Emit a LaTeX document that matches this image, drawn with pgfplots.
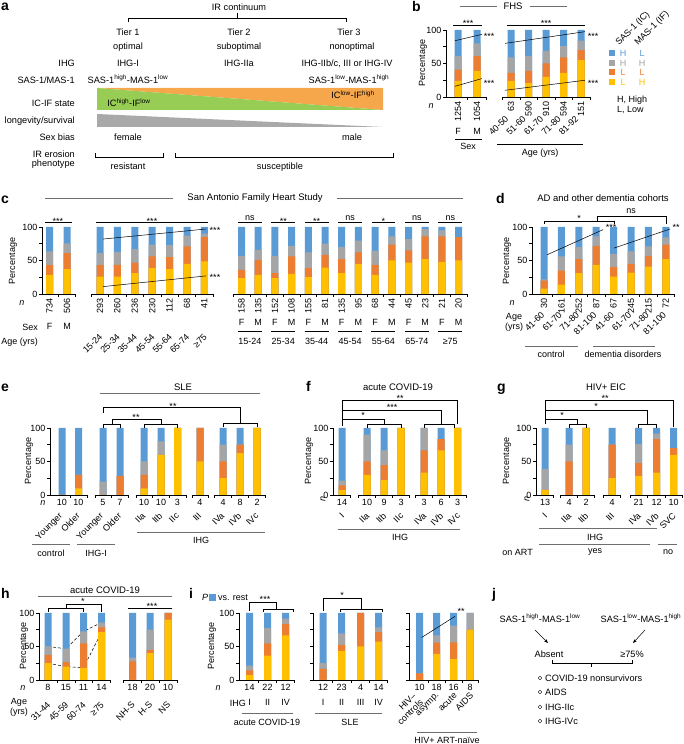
\documentclass[border=0pt]{standalone}
\usepackage{fontspec}
\setmainfont{Liberation Sans}
\usepackage{graphicx}
\usepackage{pgfplots}
\pgfplotsset{compat=1.18}
\usepackage{pgfplotstable}
\usetikzlibrary{arrows.meta}

\definecolor{cB}{HTML}{5B9BD5}
\definecolor{cG}{HTML}{A5A5A5}
\definecolor{cO}{HTML}{ED7D31}
\definecolor{cY}{HTML}{FFC000}
\definecolor{bandO}{HTML}{F6A64B}
\definecolor{bandG}{HTML}{97CC55}
\definecolor{triG}{HTML}{A9A9A9}
\definecolor{lnG}{HTML}{6E6E6E}

\newcommand{\fs}{\fontsize{9}{10}\selectfont}
\newcommand{\fa}{\fontsize{9.2}{10.5}\selectfont}
\newcommand{\ft}{\fontsize{9.5}{11}\selectfont}
\newcommand{\fl}{\fontsize{14}{14}\selectfont\bfseries}
\newcommand{\rr}[1]{\makebox[0pt][r]{\rotatebox{45}{#1}}}
\newcommand{\rv}[1]{\rotatebox{90}{#1}}
\newcommand{\Tx}[4][]{\node[font=\fs, inner sep=0pt, #1] at (#2,744-#3) {#4};}
\newcommand{\Sg}[3]{\node[font=\fs, inner sep=0pt, anchor=base] at (#1,744-#2) {#3};}
\newcommand{\xseg}[4]{\draw[axl] (#2,744-#1) -- (#3,744-#1); \foreach \tk in {#4} {\draw[axl] (\tk,744-#1) -- (\tk,744-#1-3);}}
\newcommand{\stk}[1]{%
  \addplot[BB=cB] table[x=x,y=B]{#1};
  \addplot[BB=cG] table[x=x,y=G]{#1};
  \addplot[BB=cO] table[x=x,y=O]{#1};
  \addplot[BB=cY] table[x=x,y=Y]{#1};}

\pgfplotsset{
 BB/.style={ybar, bar width=7pt, bar shift=0pt, draw=none, fill=#1},
 PB/.style={scale only axis, height=67pt, ymin=0, ymax=100, clip=false, enlargelimits=false, anchor=south west,
   axis x line*=bottom, axis y line*=left,
   x axis line style={draw=none}, y axis line style={line width=0.5pt, black},
   xtick style={draw=none}, ytick style={line width=0.5pt, black},
   ytick={0,50,100}, yticklabels={0,50,100}, minor ytick={25,75},
   tick align=outside, major tick length=3pt, minor tick length=3pt,
   tick label style={font=\fs},
   xticklabel style={inner sep=1pt},
   yticklabel style={inner sep=1.5pt},
 },
 NY/.style={axis y line=none},
 TL/.style={sharp plot, draw=black, line width=0.5pt, mark=none},
}

\pgfplotstableread[row sep=\\]{x B G O Y\\ 458 100 61 41 24\\ 477 100 80 61 39\\}\tbBa
\pgfplotstableread[row sep=\\]{x B G O Y\\ 511 100 59 36 24\\ 528.5 100 61 39 21\\ 546 100 69 50 30\\ 563.5 100 76 59 36\\ 581 100 84 70 55\\}\tbBb
\pgfplotstableread[row sep=\\]{x B G O Y\\ 49.5 100 63.5 43 28.5\\ 67 100 75.5 61 37\\}\tbCa
\pgfplotstableread[row sep=\\]{x B G O Y\\ 100 100 61 43 26\\ 117.4 100 62.5 43.5 26\\ 134.8 100 67 47 31\\ 152.2 100 73.5 56 38.5\\ 169.6 100 73 55 37\\ 187 100 87 71 45\\ 204.4 100 90 85 48.5\\}\tbCb
\pgfplotstableread[row sep=\\]{x B G O Y\\ 241.5 100 57 36 23.5\\ 258.2 100 66 51 28.5\\ 274.9 100 57 31 23.5\\ 291.6 100 72 56 30\\ 308.3 100 62 38.5 25\\ 325 100 75 58.5 39.5\\ 341.7 100 70 52 31\\ 358.4 100 79.5 62 45\\ 375.1 100 64.5 43.5 28.5\\ 391.8 100 86 73.5 50\\ 408.5 100 82 65 47\\ 425.2 100 97 86 52\\ 441.9 100 95 86 48\\ 458.6 100 85 85 50\\}\tbCc
\pgfplotstableread[row sep=\\]{x B G O Y\\ 544 100 22 20 8\\ 561.4 100 56 35 14\\ 578.8 100 70 52 31\\ 596.2 100 86 72 43.5\\ 613.6 100 60 40 26\\ 631 100 63.5 45 32\\ 648.4 100 71 57 41\\ 665.8 100 84.5 73.5 52\\}\tbD
\pgfplotstableread[row sep=\\]{x B G O Y\\ 62 100 0 0 0\\ 78.5 100 30 30 10\\ 103 100 20 0 0\\ 120 100 28.6 28.6 0\\ 144 100 50 30 10\\ 161 100 80 60 60\\ 177.5 100 100 100 100\\ 200 100 100 100 50\\ 223 100 75 50 25\\ 240 100 75 75 62.5\\ 257 100 100 100 100\\}\tbE
\pgfplotstableread[row sep=\\]{x B G O Y\\ 342 100 21.4 14.3 7.1\\ 367 100 90 50 30\\ 384 100 66.7 44.4 22.2\\ 401 100 100 100 100\\ 424 100 100 66.7 33.3\\ 441 100 83.3 83.3 66.7\\ 457.5 100 100 100 100\\}\tbF
\pgfplotstableread[row sep=\\]{x B G O Y\\ 545 100 38.5 7.7 7.7\\ 569 100 75 50 0\\ 586 100 100 100 100\\ 612 100 75 75 25\\ 638.5 100 76.2 47.6 28.6\\ 656.5 100 91.7 83.3 33.3\\ 673.5 100 70 70 60\\}\tbG
\pgfplotstableread[row sep=\\]{x B G O Y\\ 48 100 50 37.5 25\\ 66 100 46.7 26.7 20\\ 83.5 100 72.7 54.5 18.2\\ 101.5 100 85.7 78.6 71.4\\}\tbHa
\pgfplotstableread[row sep=\\]{x B G O Y\\ 132.5 100 33.3 27.8 0\\ 150 100 75 45 40\\ 168 100 100 100 90\\}\tbHb
\pgfplotstableread[row sep=\\]{x B G O Y\\ 249.5 100 21.4 14.3 7.1\\ 267.5 100 77.3 54.5 36.4\\ 285.5 100 91.7 83.3 66.7\\}\tbIa
\pgfplotstableread[row sep=\\]{x B G O Y\\ 323 100 25 16.7 0\\ 341.5 100 69.6 52.2 43.5\\ 360.5 100 100 100 50\\ 378.5 100 78.6 71.4 57.1\\}\tbIb
\pgfplotstableread[row sep=\\]{x B G O Y\\ 419.5 100 10 10 0\\ 436.5 100 66.7 55.6 38.9\\ 453.5 100 81.25 56.25 31.25\\ 470 100 100 75 75\\}\tbIc

\begin{document}
\begin{tikzpicture}[x=1pt,y=1pt]
\useasboundingbox (0,0) rectangle (683,744);
\tikzset{axl/.style={line width=0.5pt, black}, gl/.style={line width=0.6pt, lnG}}

% ================= panel a
\node[font=\fl, anchor=base west, inner sep=0] at (1,744-11) {a};
\begin{scope}[every node/.style={font=\fa, inner sep=0pt, anchor=base}]
\node at (239,744-10.5) {IR continuum};
\draw[axl] (128,744-22) -- (128,744-18) -- (346,744-18) -- (346,744-22);
\draw[axl] (237,744-18) -- (237,744-13);
\node at (128,744-35.5) {Tier 1}; \node at (239,744-35.5) {Tier 2}; \node at (349,744-35.5) {Tier 3};
\node at (128,744-50) {optimal}; \node at (239,744-50) {suboptimal}; \node at (352,744-50) {nonoptimal};
\node[anchor=base east] at (75,744-66.5) {IHG};
\node at (128,744-66.5) {IHG-I}; \node at (239,744-66.5) {IHG-IIa}; \node at (347,744-66.5) {IHG-IIb/c, III or IHG-IV};
\node[anchor=base east] at (75,744-83.5) {SAS-1/MAS-1};
\node at (128,744-83.5) {SAS-1\textsuperscript{high}-MAS-1\textsuperscript{low}};
\node at (349,744-83.5) {SAS-1\textsuperscript{low}-MAS-1\textsuperscript{high}};
\fill[bandO] (97,744-88) -- (383,744-88) -- (383,744-110) -- cycle;
\fill[bandG] (97,744-88) -- (383,744-110) -- (97,744-110) -- cycle;
\node[anchor=base east] at (75,744-107) {IC-IF state};
\node at (129,744-107) {IC\textsuperscript{high}-IF\textsuperscript{low}};
\node at (353,744-99) {IC\textsuperscript{low}-IF\textsuperscript{high}};
\fill[triG] (97,744-114) -- (383,744-127) -- (97,744-127) -- cycle;
\node[anchor=base east] at (75,744-124) {longevity/survival};
\node[anchor=base east] at (75,744-141) {Sex bias};
\node at (128,744-141) {female}; \node at (352,744-141) {male};
\node[anchor=base east] at (75,744-158) {IR erosion};
\node[anchor=base east] at (75,744-167) {phenotype};
\draw[axl] (95,744-153) -- (95,744-157) -- (163,744-157) -- (163,744-153);
\draw[axl] (175,744-153) -- (175,744-157) -- (393,744-157) -- (393,744-153);
\node at (128,744-169.5) {resistant}; \node at (280,744-169.5) {susceptible};
\end{scope}

% ================= panel b
\node[font=\fl, anchor=base west, inner sep=0] at (412,744-12) {b};
\Tx[font=\ft]{513}{6}{FHS}
\draw[gl] (460,744-6) -- (497,744-6); \draw[gl] (530,744-6) -- (567,744-6);
\Tx[rotate=90]{423}{63}{Percentage}
\begin{axis}[PB, at={(446pt,647pt)}, width=40.5pt, xmin=446, xmax=486.5,
  xtick={458,477}, xticklabels={\rv{1254},\rv{1054}},
  extra x ticks={458,477}, extra x tick labels={F,M},
  extra x tick style={tick label style={yshift=-27pt}}]
\stk{\tbBa}
\addplot[TL] coordinates {(455,84) (482,93.5)};
\addplot[TL] coordinates {(455,16) (482,27.5)};
\end{axis}
\begin{axis}[PB, NY, at={(502pt,647pt)}, width=88pt, xmin=502, xmax=590,
  xtick={511,528.5,546,563.5,581}, xticklabels={\rv{63},\rv{590},\rv{910},\rv{594},\rv{151}},
  extra x ticks={511,528.5,546,563.5,581}, extra x tick labels={\rr{40-50},\rr{51-60},\rr{61-70},\rr{71-80},\rr{81-92}},
  extra x tick style={tick label style={yshift=-14pt, xshift=-2pt}}]
\stk{\tbBb}
\addplot[TL] coordinates {(505,80) (585,97.5)};
\addplot[TL] coordinates {(505,10) (585,25)};
\end{axis}
\xseg{97}{446}{486.5}{467.5,486.5}
\xseg{97}{502.25}{589.75}{502.25,519.75,537.25,554.75,572.25,589.75}
\Tx[font=\fs\itshape]{431}{106}{n}
\draw[axl] (453,744-25) -- (482,744-25); \Sg{468}{27}{***}
\draw[axl] (507,744-25) -- (585,744-25); \Sg{546}{27}{***}
\Sg{489}{40}{***} \Sg{489}{87}{***} \Sg{593}{40}{***} \Sg{593}{87}{***}
\draw[axl] (455,744-139) -- (482,744-139); \Tx{468}{146}{Sex}
\draw[axl] (497,744-144) -- (583,744-144); \Tx{540}{153}{Age (yrs)}
% legend b
\node[font=\fs, rotate=45, anchor=base west, inner sep=0] at (619,744-46) {SAS-1 (IC)};
\node[font=\fs, rotate=45, anchor=base west, inner sep=0] at (638,744-46) {MAS-1 (IF)};
\fill[cB] (608.5,744-50.5) rectangle (614.5,744-56.5);
\fill[cG] (608.5,744-60) rectangle (614.5,744-66);
\fill[cO] (608.5,744-69.5) rectangle (614.5,744-75.5);
\fill[cY] (608.5,744-79) rectangle (614.5,744-85);
\Tx[text=cB]{623}{53.5}{H} \Tx[text=cB]{642}{53.5}{L}
\Tx[text=cG]{623}{63}{H} \Tx[text=cG]{642}{63}{H}
\Tx[text=cO]{623}{72.5}{L} \Tx[text=cO]{642}{72.5}{L}
\Tx[text=cY]{623}{82}{L} \Tx[text=cY]{642}{82}{H}
\Tx[anchor=west]{617}{100}{H, High}
\Tx[anchor=west]{617}{110}{L, Low}

% ================= panel c
\node[font=\fl, anchor=base west, inner sep=0] at (1,744-204) {c};
\Tx[font=\ft]{255}{198}{San Antonio Family Heart Study}
\draw[gl] (45,744-198) -- (173,744-198); \draw[gl] (337,744-198) -- (463,744-198);
\Tx[rotate=90]{13}{261}{Percentage}
\begin{axis}[PB, at={(42pt,450pt)}, width=34pt, xmin=42, xmax=76,
  xtick={49.5,67}, xticklabels={\rv{734},\rv{506}},
  extra x ticks={49.5,67}, extra x tick labels={F,M},
  extra x tick style={tick label style={yshift=-25pt}}]
\stk{\tbCa}
\end{axis}
\begin{axis}[PB, NY, at={(91pt,450pt)}, width=123pt, xmin=91, xmax=214,
  xtick={100,117.4,134.8,152.2,169.6,187,204.4}, xticklabels={\rv{293},\rv{260},\rv{236},\rv{230},\rv{112},\rv{68},\rv{41}},
  extra x ticks={100,117.4,134.8,152.2,169.6,187,204.4},
  extra x tick labels={\rr{15-24},\rr{25-34},\rr{35-44},\rr{45-54},\rr{55-64},\rr{65-74},\rr{≥75}},
  extra x tick style={tick label style={yshift=-35pt, xshift=3pt}}]
\stk{\tbCb}
\addplot[TL] coordinates {(103,82) (206,97)};
\addplot[TL] coordinates {(103,11) (206,27)};
\end{axis}
\begin{axis}[PB, NY, at={(233pt,450pt)}, width=234pt, xmin=233, xmax=467,
  xtick={241.5,258.2,274.9,291.6,308.3,325,341.7,358.4,375.1,391.8,408.5,425.2,441.9,458.6},
  xticklabels={\rv{158},\rv{135},\rv{152},\rv{108},\rv{155},\rv{81},\rv{135},\rv{95},\rv{68},\rv{44},\rv{45},\rv{23},\rv{21},\rv{20}},
  extra x ticks={241.5,258.2,274.9,291.6,308.3,325,341.7,358.4,375.1,391.8,408.5,425.2,441.9,458.6},
  extra x tick labels={F,M,F,M,F,M,F,M,F,M,F,M,F,M},
  extra x tick style={tick label style={yshift=-21pt}}]
\stk{\tbCc}
\end{axis}
\xseg{294}{42}{75.7}{58.2,75.7}
\xseg{294}{91.3}{213.1}{91.3,108.7,126.1,143.5,160.9,178.3,195.7,213.1}
\xseg{294}{233.15}{466.95}{233.15,249.85,266.55,283.25,299.95,316.65,333.35,350.05,366.75,383.45,400.15,416.85,433.55,450.25,466.95}
\Tx[font=\fs\itshape]{22}{303}{n}
\Tx[anchor=east]{38}{327}{Sex}
\Tx[anchor=east]{38}{342}{Age (yrs)}
\foreach \cx/\lab in {249.85/15-24,283.25/25-34,316.65/35-44,350.05/45-54,383.45/55-64,416.85/65-74,450.25/≥75}{
  \draw[axl] (\cx-12,744-331) -- (\cx+12,744-331);
  \node[font=\fs, inner sep=0pt] at (\cx,744-341) {\lab};}
\draw[axl] (45,744-222) -- (72,744-222); \Sg{58}{225}{***}
\draw[axl] (96,744-222) -- (208,744-222); \Sg{152}{225}{***}
\foreach \cx/\lab/\yb in {241.5/ns/220.5,274.9/**/225,308.3/**/225,341.7/ns/220.5,375.1/*/225,408.5/ns/220.5,441.9/ns/220.5}{
  \draw[axl] (\cx-3.5,744-222) -- (\cx+20.2,744-222);
  \node[font=\fs, inner sep=0pt, anchor=base] at (\cx+8.35,744-\yb) {\lab};}
\Sg{215}{234}{***} \Sg{215}{281}{***}

% ================= panel d
\node[font=\fl, anchor=base west, inner sep=0] at (496,744-204) {d};
\Tx[font=\ft]{603}{198}{AD and other dementia cohorts}
\Tx[rotate=90]{507}{261}{Percentage}
\begin{axis}[PB, at={(532pt,450pt)}, width=143pt, xmin=532, xmax=675,
  xtick={544,561.4,578.8,596.2,613.6,631,648.4,665.8},
  xticklabels={\rv{30},\rv{161},\rv{252},\rv{87},\rv{67},\rv{245},\rv{215},\rv{72}},
  extra x ticks={544,561.4,578.8,596.2,613.6,631,648.4,665.8},
  extra x tick labels={\rr{41-60},\rr{61-70},\rr{71-80},\rr{81-100},\rr{41-60},\rr{61-70},\rr{71-80},\rr{81-100}},
  extra x tick style={tick label style={yshift=-13pt, xshift=1pt}}]
\stk{\tbD}
\addplot[TL] coordinates {(547,58.5) (603,96)};
\addplot[TL] coordinates {(614,68.5) (670,97)};
\end{axis}
\xseg{294}{532}{674.5}{552.7,570.1,587.5,604.9,622.3,639.7,657.1,674.5}
\Tx[font=\fs\itshape]{512}{303}{n}
\node[font=\fs, inner sep=0pt, align=center] at (514,744-322) {Age\\(yrs)};
\draw[gl] (525,744-346) -- (578,744-346); \Tx{551}{354}{control}
\draw[gl] (593,744-346) -- (655,744-346); \Tx{623}{354}{dementia disorders}
\draw[axl] (544,744-224) -- (544,744-221) -- (614,744-221) -- (614,744-224); \Sg{579}{222}{*}
\draw[axl] (597,744-221) -- (597,744-216) -- (666,744-216) -- (666,744-224); \Sg{631}{213.5}{ns}
\Sg{611}{231}{***} \Sg{676}{231}{**}

% ================= panel e
\node[font=\fl, anchor=base west, inner sep=0] at (1,744-392) {e};
\Tx[font=\ft]{183}{387}{SLE}
\draw[gl] (100,744-393) -- (260,744-393);
\Tx[rotate=90]{29}{461}{Percentage}
\begin{axis}[PB, at={(50pt,249pt)}, width=216pt, xmin=50, xmax=266,
  xtick={62,78.5,103,120,144,161,177.5,200,223,240,257},
  xticklabels={10,10,5,7,10,10,3,4,4,8,2},
  extra x ticks={62,78.5,103,120,144,161,177.5,200,223,240,257},
  extra x tick labels={\rr{Younger},\rr{Older},\rr{Younger},\rr{Older},\rr{IIa},\rr{IIb},\rr{IIc},\rr{III},\rr{IVa},\rr{IVb},\rr{IVc}},
  extra x tick style={tick label style={yshift=-13pt, xshift=2pt}}]
\stk{\tbE}
\end{axis}
\xseg{495}{50}{86.75}{70.25,86.75}
\xseg{495}{94.75}{128.25}{94.75,111.5,128.25}
\xseg{495}{135.75}{186}{135.75,152.5,169.25,186}
\xseg{495}{191.75}{208.25}{191.75,208.25}
\xseg{495}{214.5}{265.5}{214.5,231.5,248.5,265.5}
\Tx[font=\fs\itshape]{43}{503}{n}
\draw[gl] (137,744-532) -- (265,744-532); \Tx{201}{540}{IHG}
\draw[gl] (32,744-544) -- (70,744-544); \Tx{51}{553}{control}
\draw[gl] (77,744-544) -- (115,744-544); \Tx{96}{553}{IHG-I}
\draw[axl] (103,744-413) -- (103,744-407) -- (240,744-407) -- (240,744-423); \Sg{173}{410}{**}
\draw[axl] (223,744-427) -- (223,744-423) -- (257,744-423) -- (257,744-427);
\draw[axl] (112,744-424) -- (112,744-419) -- (161,744-419) -- (161,744-424); \Sg{136}{421}{**}
\draw[axl] (103,744-428) -- (103,744-424) -- (120,744-424) -- (120,744-428);
\draw[axl] (144,744-428) -- (144,744-424) -- (177.5,744-424) -- (177.5,744-428);

% ================= panel f
\node[font=\fl, anchor=base west, inner sep=0] at (306,744-392) {f};
\Tx[font=\ft]{398}{387}{acute COVID-19}
\Tx[rotate=90]{309}{461}{Percentage}
\begin{axis}[PB, at={(333pt,249pt)}, width=133pt, xmin=333, xmax=466,
  xtick={342,367,384,401,424,441,457.5},
  xticklabels={14,10,9,3,3,6,3},
  extra x ticks={342,367,384,401,424,441,457.5},
  extra x tick labels={\rr{I},\rr{IIa},\rr{IIb},\rr{IIc},\rr{IVa},\rr{IVb},\rr{IVc}},
  extra x tick style={tick label style={yshift=-13pt, xshift=3pt}}]
\stk{\tbF}
\end{axis}
\xseg{495}{333}{350.5}{350.5}
\xseg{495}{358.5}{409.5}{358.5,375.5,392.5,409.5}
\xseg{495}{415.5}{466}{415.5,432.5,449.25,466}
\Tx[font=\fs\itshape, rotate=90]{323}{499}{n}
\draw[gl] (338,744-529) -- (460,744-529); \Tx{400}{537}{IHG}
\draw[axl] (342,744-426) -- (342,744-400) -- (457.5,744-400) -- (457.5,744-424); \Sg{400}{402}{**}
\draw[axl] (342,744-410) -- (441,744-410) -- (441,744-424); \Sg{392}{411}{***}
\draw[axl] (342,744-419) -- (384,744-419) -- (384,744-424); \Sg{363}{419}{*}
\draw[axl] (367,744-428) -- (367,744-424) -- (401,744-424) -- (401,744-428);
\draw[axl] (424,744-428) -- (424,744-424) -- (454,744-424) -- (454,744-428);

% ================= panel g
\node[font=\fl, anchor=base west, inner sep=0] at (497,744-392) {g};
\Tx[font=\ft]{606}{387}{HIV+ EIC}
\Tx[rotate=90]{507}{461}{Percentage}
\begin{axis}[PB, at={(536pt,249pt)}, width=146pt, xmin=536, xmax=682,
  xtick={545,569,586,612,638.5,656.5,673.5},
  xticklabels={13,4,2,4,21,12,10},
  extra x ticks={545,569,586,612,638.5,656.5,673.5},
  extra x tick labels={\rr{I},\rr{IIa},\rr{IIb},\rr{III},\rr{IVa},\rr{IVb},\rr{SVC}},
  extra x tick style={tick label style={yshift=-13pt, xshift=3pt}}]
\stk{\tbG}
\end{axis}
\xseg{495}{536}{553.5}{553.5}
\xseg{495}{560.5}{594.5}{560.5,577.5,594.5}
\xseg{495}{603.5}{620.5}{603.5,620.5}
\xseg{495}{630}{665}{630,647.5,665}
\xseg{495}{665}{682}{665,682}
\Tx[font=\fs\itshape, rotate=90]{527}{499}{n}
\draw[gl] (539,744-528) -- (657,744-528); \Tx{595}{537}{IHG}
\Tx[anchor=east]{533}{552}{on ART}
\draw[gl] (539,744-544) -- (650,744-544); \Tx{595}{552}{yes}
\draw[gl] (658,744-544) -- (677,744-544); \Tx{668}{552}{no}
\draw[axl] (545,744-424) -- (545,744-400) -- (673.5,744-400) -- (673.5,744-427); \Sg{605}{402}{**}
\draw[axl] (545,744-410) -- (647.5,744-410) -- (647.5,744-424); \Sg{596}{410}{*}
\draw[axl] (545,744-419) -- (577.5,744-419) -- (577.5,744-424); \Sg{562}{419}{*}
\draw[axl] (569,744-428) -- (569,744-424) -- (586,744-424) -- (586,744-428);
\draw[axl] (638.5,744-428) -- (638.5,744-424) -- (656.5,744-424) -- (656.5,744-428);

% ================= panel h
\node[font=\fl, anchor=base west, inner sep=0] at (1,744-599) {h};
\Tx[font=\ft]{105}{590}{acute COVID-19}
\draw[gl] (38,744-596) -- (172,744-596);
\Tx[rotate=90]{24}{646}{Percentage}
\begin{axis}[PB, at={(39pt,64pt)}, width=72pt, xmin=39, xmax=111,
  xtick={48,66,83.5,101.5}, xticklabels={8,15,11,14},
  extra x ticks={48,66,83.5,101.5}, extra x tick labels={\rr{31-44},\rr{45-59},\rr{60-74},\rr{≥75}},
  extra x tick style={tick label style={yshift=-17pt, xshift=3pt}}]
\addplot[TL, densely dashed] coordinates {(48,50) (66,46.7) (83.5,72.7) (101.5,85.7)};
\addplot[TL, densely dashed] coordinates {(48,25) (66,20) (83.5,18.2) (101.5,71.4)};
\stk{\tbHa}
\end{axis}
\begin{axis}[PB, NY, at={(120pt,64pt)}, width=57pt, xmin=120, xmax=177,
  xtick={132.5,150,168}, xticklabels={18,20,10},
  extra x ticks={132.5,150,168}, extra x tick labels={\rr{NH-S},\rr{H-S},\rr{NS}},
  extra x tick style={tick label style={yshift=-17pt, xshift=3pt}}]
\stk{\tbHb}
\end{axis}
\xseg{680}{39}{110.5}{57,74.75,92.5,110.5}
\xseg{680}{123.5}{177}{123.5,141.25,159,177}
\Tx[font=\fs\itshape]{23}{688}{n}
\node[font=\fs, inner sep=0pt, align=center] at (19,744-707) {Age\\(yrs)};
\draw[axl] (48,744-612) -- (48,744-608) -- (83.5,744-608) -- (83.5,744-612);
\draw[axl] (66,744-608) -- (66,744-604) -- (101.5,744-604) -- (101.5,744-612); \Sg{83}{605}{*}
\draw[axl] (128,744-608) -- (172,744-608); \Sg{152}{610}{***}

% ================= panel i
\node[font=\fl, anchor=base west, inner sep=0] at (189,744-599) {i};
\Tx[font=\fs\itshape]{205}{597}{P}
\fill[cB] (209,744-594) rectangle (216,744-601);
\Tx{233}{597.5}{vs. rest}
\Tx[rotate=90]{212}{646}{Percentage}
\begin{axis}[PB, at={(239pt,64pt)}, width=57pt, xmin=239, xmax=296,
  xtick={249.5,267.5,285.5}, xticklabels={14,22,12},
  extra x ticks={249.5,267.5,285.5}, extra x tick labels={I,II,IV},
  extra x tick style={tick label style={yshift=-15pt}}]
\stk{\tbIa}
\end{axis}
\begin{axis}[PB, at={(313pt,64pt)}, width=75pt, xmin=313, xmax=388, yticklabels={,,},
  xtick={323,341.5,360.5,378.5}, xticklabels={12,23,4,14},
  extra x ticks={323,341.5,360.5,378.5}, extra x tick labels={I,II,III,IV},
  extra x tick style={tick label style={yshift=-15pt}}]
\stk{\tbIb}
\end{axis}
\begin{axis}[PB, at={(409pt,64pt)}, width=70pt, xmin=409, xmax=479, yticklabels={,,},
  xtick={419.5,436.5,453.5,470}, xticklabels={10,18,16,8},
  extra x ticks={419.5,436.5,453.5,470},
  extra x tick labels={\rr{\shortstack[r]{HIV–\\controls}},\rr{asymp.},\rr{acute},\rr{AIDS}},
  extra x tick style={tick label style={yshift=-8pt, xshift=4pt}}]
\stk{\tbIc}
\addplot[TL] coordinates {(421.7,63.5) (455,95)};
\end{axis}
\xseg{680}{239}{294.5}{258.5,276.5,294.5}
\xseg{680}{313}{387.5}{332.25,351,369.5,387.5}
\xseg{680}{409}{478.5}{428,445,461.75,478.5}
\Tx[font=\fs\itshape]{218}{688}{n}
\Tx[anchor=east]{246}{703}{IHG}
\draw[gl] (242,744-713) -- (293,744-713); \Tx{267}{722}{acute COVID-19}
\draw[gl] (315,744-713) -- (382,744-713); \Tx{350}{722}{SLE}
\draw[gl] (417,744-732) -- (477,744-732); \Tx{447}{740}{HIV+ ART-naïve}
\draw[axl] (249.5,744-611) -- (249.5,744-602) -- (276.5,744-602) -- (276.5,744-609); \Sg{265}{603}{***}
\draw[axl] (263,744-612) -- (263,744-609) -- (293,744-609) -- (293,744-612);
\draw[axl] (323,744-611) -- (323,744-598) -- (361,744-598) -- (361,744-609); \Sg{342}{599}{*}
\draw[axl] (340,744-612) -- (340,744-609) -- (382,744-609) -- (382,744-612);
\Sg{461}{615}{**}

% ================= panel j
\node[font=\fl, anchor=base west, inner sep=0] at (492,744-599) {j};
\begin{scope}[every node/.style={font=\fa, inner sep=0pt}]
\node at (540,744-618) {SAS-1\textsuperscript{high}-MAS-1\textsuperscript{low}};
\node at (641,744-618) {SAS-1\textsuperscript{low}-MAS-1\textsuperscript{high}};
\draw[-{Stealth[length=4pt,width=3pt]}, line width=0.5pt] (535,744-630) -- (548,744-643);
\draw[-{Stealth[length=4pt,width=3pt]}, line width=0.5pt] (645,744-630) -- (633,744-643);
\node at (549,744-654) {Absent};
\node at (632,744-654) {≥75\%};
\draw[axl] (552,744-660) -- (552,744-663) -- (632,744-663) -- (632,744-660);
\draw[axl] (591,744-663) -- (591,744-667);
\foreach \yy/\tt in {678/COVID-19 nonsurvivors,692/AIDS,707/IHG-IIc,721/IHG-IVc}{
  \draw[line width=0.4pt] (540,744-\yy) circle (1.8);
  \node[anchor=west] at (545,744-\yy) {\tt};}
\end{scope}
\end{tikzpicture}
\end{document}
